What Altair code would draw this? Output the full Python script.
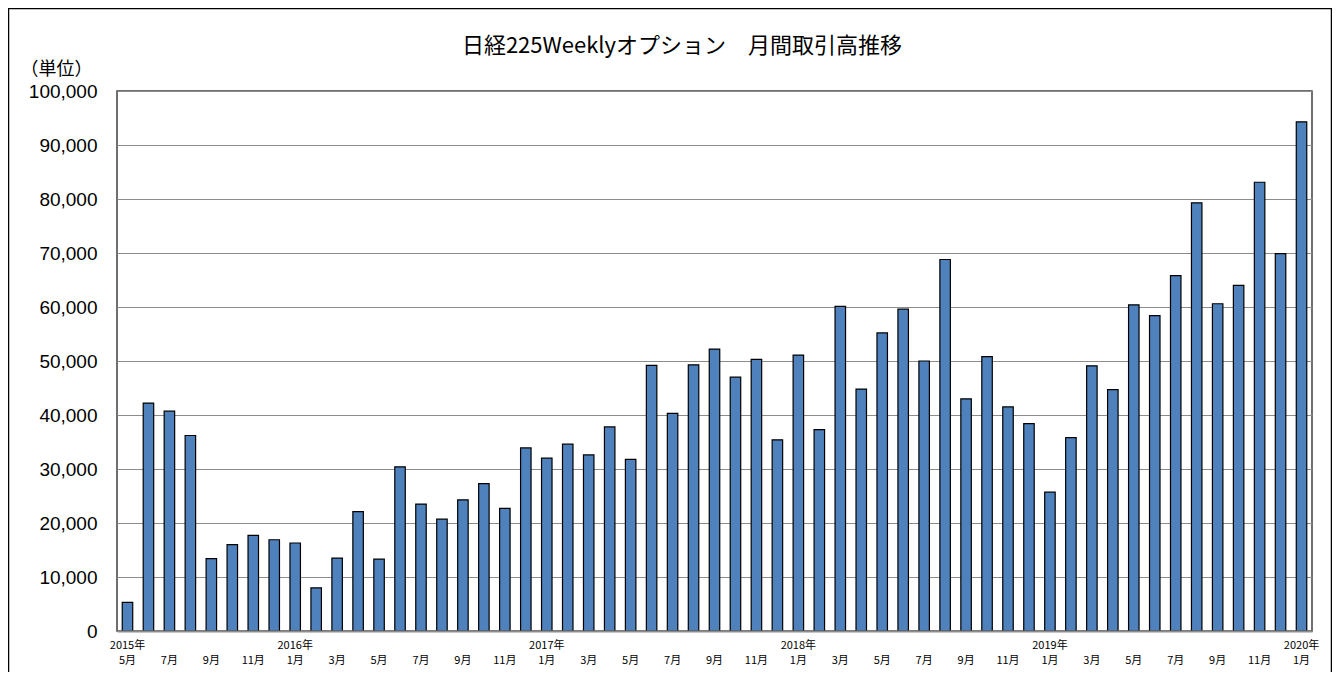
import altair as alt
import pandas as pd

# ---- data ----
years = [2015] * 8 + [2016] * 12 + [2017] * 12 + [2018] * 12 + [2019] * 12 + [2020]
month_nums = list(range(5, 13)) + list(range(1, 13)) * 4 + [1]
months = [f"{y}-{m:02d}" for y, m in zip(years, month_nums)]

volumes = [5300, 42200, 40700, 36200, 13400, 16000, 17700, 16900,
           16300, 8000, 13500, 22100, 13300, 30400, 23500, 20700, 24300, 27300, 22700, 33900,
           32000, 34600, 32600, 37800, 31800, 49200, 40300, 49300, 52200, 47000, 50300, 35400,
           51100, 37300, 60100, 44800, 55200, 59600, 50000, 68800, 43000, 50800, 41500, 38400,
           25700, 35800, 49100, 44700, 60400, 58400, 65800, 79300, 60600, 64000, 83100, 69900,
           94300]

y_ticks = list(range(0, 100001, 10000))
title_text = "日経225Weeklyオプション　月間取引高推移"
unit_text = "（単位）"

df = pd.DataFrame({"month": months, "volume": volumes})

W, H = 1195, 540
FONT_JP = "Noto Sans CJK JP"
FIRST = months[0]

label_expr = (
    "toNumber(slice(datum.value, 5)) % 2 == 1 ? "
    "[(slice(datum.value, 5) == '01' || datum.value == '" + FIRST + "') ? slice(datum.value, 0, 4) + '年' : '', "
    "toNumber(slice(datum.value, 5)) + '月'] : ''"
)

bars = alt.Chart(df).mark_bar(color="#4F81BD", stroke="#000000", strokeWidth=1.2).encode(
    x=alt.X(
        "month:N",
        sort=None,
        scale=alt.Scale(paddingInner=0.5, paddingOuter=0.25),
        axis=alt.Axis(
            title=None,
            labelExpr=label_expr,
            labelAngle=0,
            labelFont=FONT_JP,
            labelFontSize=11,
            labelColor="black",
            labelLineHeight=15,
            labelPadding=8,
            labelBaseline="top",
            ticks=False,
            tickSize=0,
            domainColor="#8c8c8c",
            domainWidth=2,
            grid=False,
            zindex=1,
        ),
    ),
    y=alt.Y(
        "volume:Q",
        scale=alt.Scale(domain=[0, 100000], nice=False),
        axis=alt.Axis(
            title=unit_text,
            values=y_ticks,
            format=",d",
            labelFont="Liberation Sans",
            labelFontSize=19,
            labelColor="black",
            labelPadding=20,
            ticks=False,
            tickSize=0,
            domain=False,
            grid=True,
            gridColor="#8c8c8c",
            gridWidth=1,
            titleAngle=0,
            titleX=-97,
            titleY=-22,
            titleAlign="left",
            titleBaseline="middle",
            titleFont=FONT_JP,
            titleFontSize=18,
            titleFontWeight="normal",
            titleColor="black",
        ),
    ),
)

title = alt.Chart(pd.DataFrame({"t": [title_text]})).mark_text(
    font=FONT_JP, fontSize=22, align="center", baseline="middle", color="black"
).encode(text="t:N", x=alt.value(565), y=alt.value(-45))

border = alt.Chart(pd.DataFrame({"b": [0]})).mark_rect(
    filled=False, stroke="black", strokeWidth=1.5
).encode(x=alt.value(-108.5), x2=alt.value(1214.5), y=alt.value(-82.5), y2=alt.value(600))

chart = (
    alt.layer(bars, title, border)
    .properties(
        width=W,
        height=H,
        autosize=alt.AutoSizeParams(type="none"),
        padding={"left": 109, "top": 83, "right": 20, "bottom": 41},
    )
    .configure_view(stroke="#404040", strokeWidth=1.5)
)

chart.save("out.html", embed_options={"renderer": "svg", "actions": False})
